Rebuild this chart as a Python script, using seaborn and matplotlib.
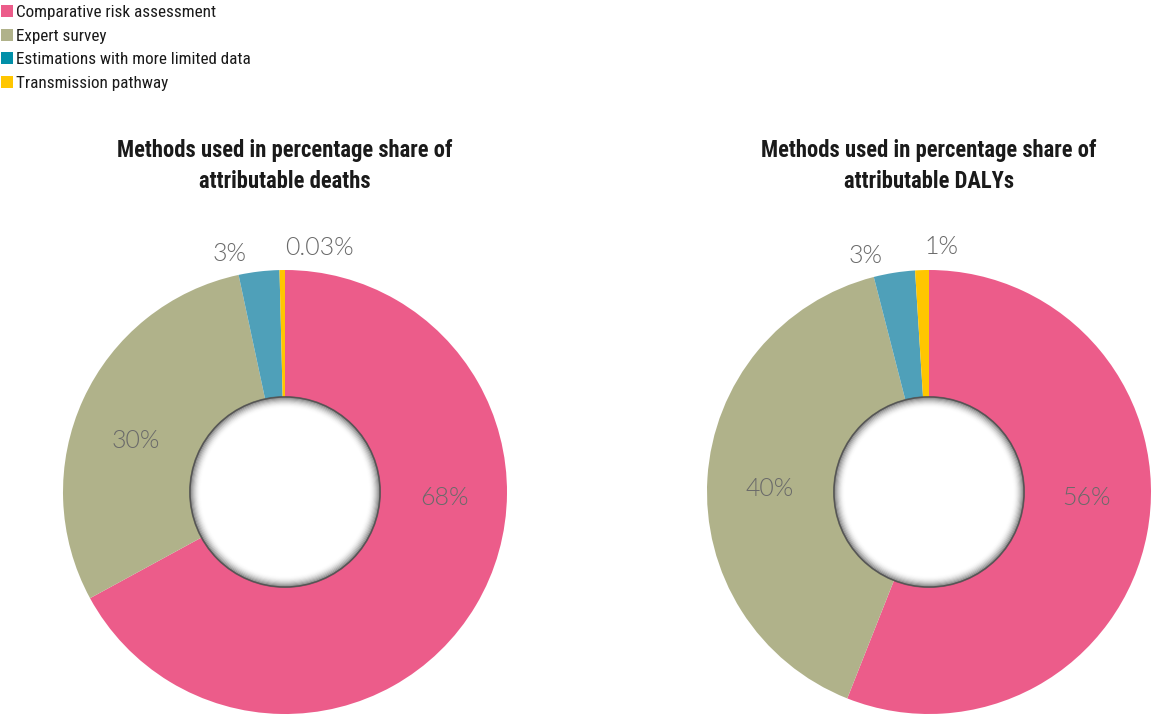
import numpy as np
import seaborn as sns
import matplotlib.pyplot as plt
from matplotlib.patches import Patch, Circle

# data
methods = ["Comparative risk assessment", "Expert survey",
           "Estimations with more limited data", "Transmission pathway"]
deaths_share = [68, 30, 3, 0.4]
deaths_labels = ["68%", "30%", "3%", "0.03%"]
dalys_share = [56, 40, 3, 1]
dalys_labels = ["56%", "40%", "3%", "1%"]
titles = ["Methods used in percentage share of\nattributable deaths",
          "Methods used in percentage share of\nattributable DALYs"]

sns.set_theme(style="white")
plt.rcParams["font.family"] = ["Roboto Condensed", "DejaVu Sans"]

wedge_cols = sns.color_palette(["#ec5c8a", "#b0b28a", "#4fa0b9", "#ffc600"])
legend_cols = sns.color_palette(["#ec5c8a", "#b0b28a", "#008fa8", "#ffc600"])

W, H = 1152, 716
fig = plt.figure(figsize=(W / 100, H / 100), dpi=100)

R_PX = 222
centers = [(285, 492), (929, 492)]
# where the percentage text sits (angle in degrees, radius in pie units)
label_pos = [
    [(-2, 0.72), (161, 0.71), (103, 1.10), (82, 1.11)],
    [(-2, 0.71), (179, 0.72), (105, 1.10), (87, 1.105)],
]

for k, (vals, labs) in enumerate([(deaths_share, deaths_labels), (dalys_share, dalys_labels)]):
    cx, cy = centers[k]
    ax = fig.add_axes([(cx - R_PX) / W, (H - cy - R_PX) / H, 2 * R_PX / W, 2 * R_PX / H])
    ax.pie(vals, colors=wedge_cols, startangle=90, counterclock=False, radius=1,
           wedgeprops=dict(linewidth=0))
    r_in = 95 / R_PX
    # soft inner shadow around the hole
    ax.add_patch(Circle((0, 0), r_in, facecolor="white", edgecolor="none", zorder=2))
    for i in range(10):
        ax.add_patch(Circle((0, 0), r_in - i * 0.005, facecolor="none",
                            edgecolor="#444444", linewidth=1.4, alpha=0.5 * (1 - i / 10) ** 2.2,
                            zorder=3))
    ax.add_patch(Circle((0, 0), r_in, facecolor="none", edgecolor="#555555", linewidth=1.0, zorder=4))
    for (ang, rr), t in zip(label_pos[k], labs):
        a = np.deg2rad(ang)
        ax.text(rr * np.cos(a), rr * np.sin(a), t, ha="center", va="center",
                fontsize=18, color="#6a6a6a", family=["Lato", "DejaVu Sans"],
                fontweight=300, clip_on=False)
    ax.set_xlim(-1, 1)
    ax.set_ylim(-1, 1)
    ax.set_aspect("equal")
    ax.axis("off")
    fig.text(cx / W, 1 - 166 / H, titles[k], ha="center", va="center",
             fontsize=16.3, fontweight="bold", color="#1a1a1a", linespacing=1.45)

handles = [Patch(facecolor=c, edgecolor="none") for c in legend_cols]
fig.legend(handles, methods, loc="upper left", bbox_to_anchor=(-0.005, 1.003),
           frameon=False, fontsize=12.3, handlelength=0.7, handleheight=0.7,
           handletextpad=0.2, labelspacing=0.52, borderaxespad=0.0,
           labelcolor="#1a1a1a")

fig.savefig("out.png", dpi=100)
